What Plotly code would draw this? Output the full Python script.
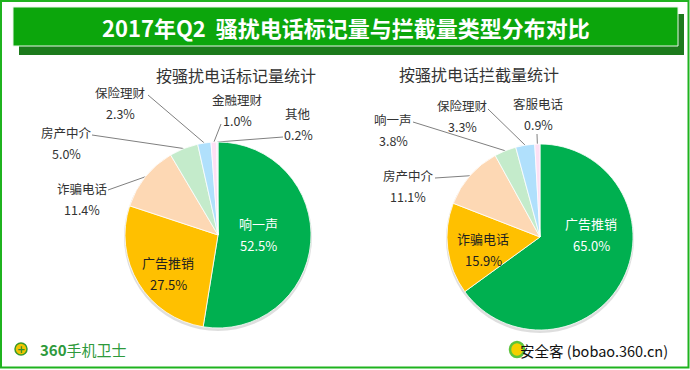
import math
import plotly.graph_objects as go

W, H = 690, 370

# ---------------- data ----------------
left_title = "按骚扰电话标记量统计"
left_labels = ["响一声", "广告推销", "诈骗电话", "房产中介", "保险理财", "金融理财", "其他"]
left_values = [52.5, 27.5, 11.4, 5.0, 2.3, 1.0, 0.2]

right_title = "按骚扰电话拦截量统计"
right_labels = ["广告推销", "诈骗电话", "房产中介", "响一声", "保险理财", "客服电话"]
right_values = [65.0, 15.9, 11.1, 3.8, 3.3, 0.9]

main_title = "2017年Q2  骚扰电话标记量与拦截量类型分布对比"

# ---------------- styles / layout ----------------
slice_colors = ["#00b050", "#ffc000", "#fdd8b4", "#c4ebcb", "#b0e0fc", "#fde0f4", "#e8e0f6"]
FONT = "Noto Sans CJK SC, Microsoft YaHei, sans-serif"
TXT = "#333333"

pies = [
    dict(labels=left_labels, values=left_values, cx=218, cy=235, r=93, title=left_title, tx=236, ty=75,
         inside={0: ((258, 223), "white"), 1: ((168, 262), "#202020")},
         outside={4: ((120, 92), (148, 95)),
                  5: ((237, 99), (221, 124)),
                  6: ((298, 113), (283, 137)),
                  3: ((66, 132), (92, 135)),
                  2: ((82, 188), (108, 190))}),
    dict(labels=right_labels, values=right_values, cx=540, cy=237, r=93, title=right_title, tx=479, ty=74,
         inside={0: ((591, 223), "white"), 1: ((483, 238), "#202020")},
         outside={3: ((393, 119), (413, 122)),
                  4: ((462, 105), (488, 109)),
                  5: ((538, 103), (537, 134)),
                  2: ((408, 175), (435, 178))}),
]

fig = go.Figure()
annotations = []
shapes = []

def dom(cx, cy, r, dy=0):
    return dict(x=[(cx - r) / W, (cx + r) / W],
                y=[1 - (cy + dy + r) / H, 1 - (cy + dy - r) / H])

for p in pies:
    # soft shadow
    fig.add_trace(go.Pie(values=[1], labels=["s"], domain=dom(p["cx"], p["cy"], p["r"] + 1, 2),
                         marker=dict(colors=["rgba(0,0,0,0.13)"]), textinfo="none",
                         hoverinfo="skip", showlegend=False, sort=False))
    fig.add_trace(go.Pie(values=p["values"], labels=p["labels"], domain=dom(p["cx"], p["cy"], p["r"]),
                         sort=False, direction="clockwise", rotation=0,
                         marker=dict(colors=slice_colors[:len(p["values"])],
                                     line=dict(color="white", width=0.8)),
                         textinfo="none", showlegend=False))
    # sub title
    annotations.append(dict(x=p["tx"], y=p["ty"], text=p["title"], showarrow=False,
                            font=dict(size=16, color=TXT, family=FONT), xref="x", yref="y"))
    total = sum(p["values"])
    cum = 0.0
    for i, (lab, v) in enumerate(zip(p["labels"], p["values"])):
        mid = (cum + v / 2) / total * 2 * math.pi
        cum += v
        pct = f"{v:.1f}%"
        if i in p["inside"]:
            (x, y), col = p["inside"][i]
            annotations.append(dict(x=x, y=y, text=lab, showarrow=False, xref="x", yref="y",
                                    font=dict(size=13, color=col, family=FONT)))
            annotations.append(dict(x=x, y=y + 22, text=pct, showarrow=False, xref="x", yref="y",
                                    font=dict(size=13, color=col, family=FONT)))
        elif i in p["outside"]:
            (x, y), (sx, sy) = p["outside"][i]
            annotations.append(dict(x=x, y=y, text=lab, showarrow=False, xref="x", yref="y",
                                    font=dict(size=12.5, color=TXT, family=FONT)))
            annotations.append(dict(x=x, y=y + 21, text=pct, showarrow=False, xref="x", yref="y",
                                    font=dict(size=12.5, color=TXT, family=FONT)))
            rx = p["cx"] + p["r"] * math.sin(mid)
            ry = p["cy"] - p["r"] * math.cos(mid)
            fig.add_trace(go.Scatter(x=[sx, rx], y=[sy, ry], mode="lines",
                                     line=dict(color="#808080", width=1),
                                     hoverinfo="skip", showlegend=False, xaxis="x", yaxis="y"))

# banner
shapes.append(dict(type="rect", xref="x", yref="y", x0=19, x1=684, y0=14, y1=55,
                   fillcolor="#1c7a1c", line=dict(width=0), layer="below"))
shapes.append(dict(type="rect", xref="x", yref="y", x0=13, x1=678, y0=7, y1=46,
                   fillcolor="#0ca60c", line=dict(color="#e8f6e8", width=1), layer="below"))
annotations.append(dict(x=346, y=27, text="<b>" + main_title + "</b>", showarrow=False,
                        xref="x", yref="y", font=dict(size=22, color="white", family=FONT)))
# outer frame
shapes.append(dict(type="rect", xref="x", yref="y", x0=1, x1=688.5, y0=1, y1=367.5,
                   line=dict(color="#1fb31f", width=2), fillcolor="rgba(0,0,0,0)"))

# bottom-left logo
shapes.append(dict(type="circle", xref="x", yref="y", x0=15, x1=27, y0=343, y1=355,
                   fillcolor="#f2c400", line=dict(color="#3a9a2a", width=1.5)))
annotations.append(dict(x=21, y=349, text="<b>+</b>", showarrow=False, xref="x", yref="y",
                        font=dict(size=10, color="#2f8f2f", family="DejaVu Sans")))
annotations.append(dict(x=38, y=349, text="<b>360</b>手机卫士", showarrow=False, xref="x", yref="y",
                        xanchor="left", font=dict(size=15, color="#2e9a3c", family=FONT)))

# bottom-right logo
shapes.append(dict(type="circle", xref="x", yref="y", x0=510, x1=524, y0=342, y1=357,
                   fillcolor="#f4d000", line=dict(color="#5cc43c", width=2.5)))
annotations.append(dict(x=518, y=350, text="安全客 (bobao.360.cn)", showarrow=False, xref="x", yref="y",
                        xanchor="left", font=dict(size=14.5, color="#111111", family=FONT)))

fig.update_layout(
    width=W, height=H,
    margin=dict(l=0, r=0, t=0, b=0),
    paper_bgcolor="white", plot_bgcolor="rgba(0,0,0,0)",
    xaxis=dict(range=[0, W], visible=False, domain=[0, 1], fixedrange=True),
    yaxis=dict(range=[H, 0], visible=False, domain=[0, 1], fixedrange=True),
    annotations=annotations, shapes=shapes,
    font=dict(family=FONT),
)

fig.write_html("out.html", config={"displayModeBar": False},
               post_script="document.body.style.margin='0px';")
